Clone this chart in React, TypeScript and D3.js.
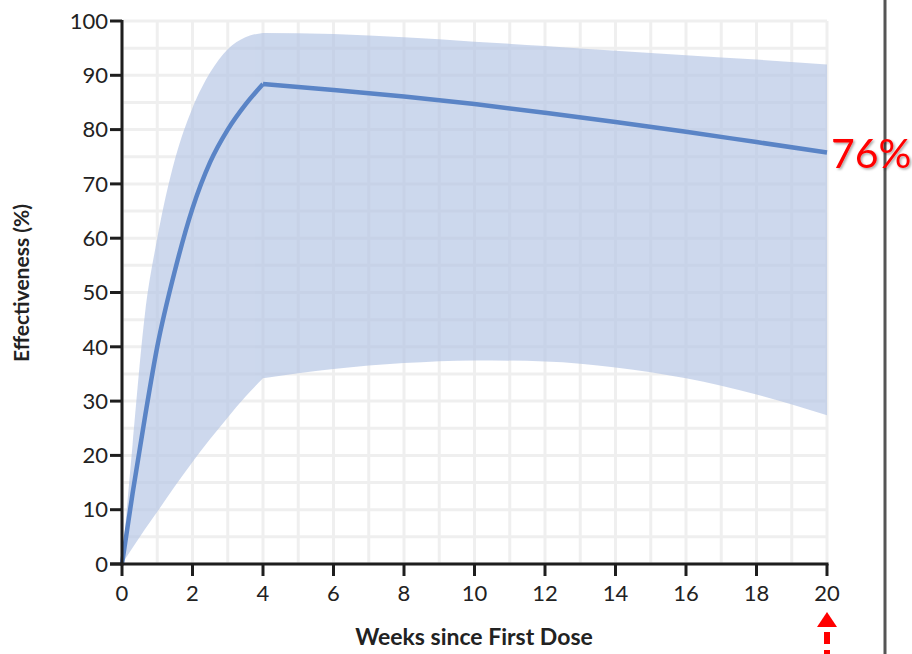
import React from "react";
import * as d3 from "d3";

// Growth phase (weeks 0–4)
const growthWeeks = [0, 0.3, 0.65, 1, 1.5, 2, 2.5, 3, 3.5, 4];
const growthCenter = [0, 13, 27, 40, 54, 65.5, 74, 80, 84.6, 88.4];
const growthUpper = [0, 22, 46, 60, 74.5, 84, 90.5, 94.8, 97, 97.8];
const growthLower = [0, 3, 6.4, 9.6, 14.3, 18.8, 23, 27, 30.8, 34.2];

// Waning phase (weeks 4–20)
const waneWeeks = [4, 6, 8, 10, 12, 14, 16, 18, 20];
const waneCenter = [88.4, 87.3, 86.1, 84.7, 83.1, 81.4, 79.6, 77.7, 75.8];
const waneUpper = [97.8, 97.6, 97, 96.2, 95.4, 94.5, 93.7, 92.9, 92];
const waneLower = [34.2, 35.9, 37, 37.5, 37.3, 36.2, 34.2, 31.2, 27.4];

const xTicks = [0, 2, 4, 6, 8, 10, 12, 14, 16, 18, 20];
const yTicks = [0, 10, 20, 30, 40, 50, 60, 70, 80, 90, 100];
const xGrid = d3.range(0, 21, 1);
const yGrid = d3.range(0, 101, 5);

const finalLabel = "76%";
const xTitle = "Weeks since First Dose";
const yTitle = "Effectiveness (%)";

type P = { w: number; c: number; u: number; l: number };
const mk = (ws: number[], c: number[], u: number[], l: number[]): P[] =>
  ws.map((w, i) => ({ w, c: c[i], u: u[i], l: l[i] }));

const growth = mk(growthWeeks, growthCenter, growthUpper, growthLower);
const wane = mk(waneWeeks, waneCenter, waneUpper, waneLower);

export default function App() {
  const W = 912;
  const H = 654;
  const x = d3.scaleLinear().domain([0, 20]).range([122, 827]);
  const y = d3.scaleLinear().domain([0, 100]).range([564, 21]);

  const area = d3
    .area<P>()
    .x((d) => x(d.w))
    .y0((d) => y(d.l))
    .y1((d) => y(d.u))
    .curve(d3.curveMonotoneX);
  const line = d3
    .line<P>()
    .x((d) => x(d.w))
    .y((d) => y(d.c))
    .curve(d3.curveMonotoneX);

  const font = "Lato, 'Open Sans', sans-serif";
  const lastX = x(20);

  return (
    <svg
      width={W}
      height={H}
      viewBox={`0 0 ${W} ${H}`}
      style={{ position: "absolute", left: 0, top: 0, background: "#fff" }}
    >
      <defs>
        <filter id="sh" x="-10%" y="-10%" width="130%" height="130%">
          <feDropShadow dx="1.5" dy="1.5" stdDeviation="1" floodColor="#000" floodOpacity="0.35" />
        </filter>
      </defs>
      {/* grid */}
      <g stroke="#efefef" strokeWidth={3}>
        {xGrid.map((g) => (
          <line key={"gx" + g} x1={x(g)} x2={x(g)} y1={y(0)} y2={y(100)} />
        ))}
        {yGrid.map((g) => (
          <line key={"gy" + g} x1={x(0)} x2={x(20)} y1={y(g)} y2={y(g)} />
        ))}
      </g>
      {/* confidence band */}
      <g opacity={0.66}>
        <path d={area(growth) || ""} fill="#b3c4e4" />
        <path d={area(wane) || ""} fill="#b3c4e4" />
      </g>
      {/* center line */}
      <path
        d={(line(growth) || "") + (line(wane) || "")}
        fill="none"
        stroke="#5a84c6"
        strokeWidth={4.5}
        strokeLinejoin="round"
      />
      {/* axes */}
      <g stroke="#1e1e1e" strokeWidth={3}>
        <line x1={x(0)} x2={x(0)} y1={y(0) + 1.5} y2={y(100) - 1} />
        <line x1={x(0) - 12} x2={x(20) + 1.5} y1={y(0)} y2={y(0)} />
        {yTicks.map((t) => (
          <line key={"yt" + t} x1={x(0) - 12} x2={x(0)} y1={y(t)} y2={y(t)} />
        ))}
        {xTicks.map((t) => (
          <line key={"xt" + t} x1={x(t)} x2={x(t)} y1={y(0)} y2={y(0) + 12} />
        ))}
      </g>
      <g fontFamily={font} fontSize={22} fill="#222">
        {yTicks.map((t) => (
          <text key={"yl" + t} x={x(0) - 14} y={y(t)} dy="0.35em" textAnchor="end">
            {t}
          </text>
        ))}
        {xTicks.map((t) => (
          <text key={"xl" + t} x={x(t)} y={601} textAnchor="middle">
            {t}
          </text>
        ))}
      </g>
      <text
        x={474}
        y={645}
        textAnchor="middle"
        fontFamily={font}
        fontWeight={700}
        fontSize={23}
        fill="#222"
      >
        {xTitle}
      </text>
      <text
        transform={`translate(29,283) rotate(-90)`}
        textAnchor="middle"
        fontFamily={font}
        fontWeight={700}
        fontSize={21}
        fill="#222"
      >
        {yTitle}
      </text>
      {/* right divider */}
      <line x1={885} x2={885} y1={0} y2={H} stroke="#555" strokeWidth={3} />
      {/* annotation */}
      <text
        x={831}
        y={168}
        fontFamily={font}
        fontSize={41}
        fill="#ff0000"
        filter="url(#sh)"
      >
        {finalLabel}
      </text>
      <path
        d={`M${lastX},612 L${lastX + 10},627 L${lastX - 10},627 Z`}
        fill="#ff0000"
      />
      <line
        x1={lastX}
        x2={lastX}
        y1={632}
        y2={H}
        stroke="#ff0000"
        strokeWidth={6}
        strokeDasharray="12 6"
      />
    </svg>
  );
}
